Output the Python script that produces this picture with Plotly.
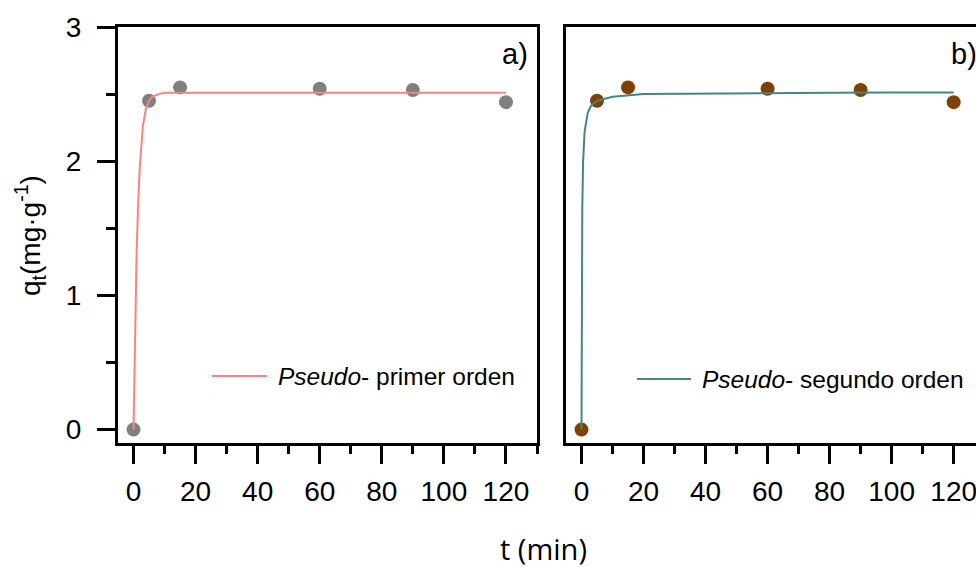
import plotly.graph_objects as go

# Measured adsorption capacity over time
t_exp = [0, 5, 15, 60, 90, 120]
q_exp = [0.0, 2.45, 2.55, 2.54, 2.53, 2.44]

# Pseudo-first-order fitted curve (sampled)
t_pfo = [0, 0.5, 1, 1.5, 2, 3, 4, 5, 6, 8, 10, 15, 20, 40, 60, 80, 100, 120]
q_pfo = [0.0, 0.78, 1.32, 1.69, 1.95, 2.26, 2.39, 2.45, 2.48, 2.50, 2.51, 2.51,
         2.51, 2.51, 2.51, 2.51, 2.51, 2.51]

# Pseudo-second-order fitted curve (sampled)
t_pso = [0, 0.1, 0.25, 0.5, 1, 2, 3, 5, 10, 20, 40, 60, 80, 100, 120]
q_pso = [0.0, 1.08, 1.64, 1.99, 2.22, 2.36, 2.41, 2.45, 2.48, 2.50, 2.505,
         2.51, 2.51, 2.512, 2.512]

x_ticks = [0, 20, 40, 60, 80, 100, 120]
y_ticks = [0, 1, 2, 3]

pfo_label = "<i>Pseudo</i>- primer orden"
pso_label = "<i>Pseudo</i>- segundo orden"

W, H = 976, 567
FONT = "Liberation Sans, Arial, sans-serif"
PFO_COLOR = "#ff8080"
PSO_COLOR = "#468484"

fig = go.Figure()

fig.add_trace(go.Scatter(x=t_exp, y=q_exp, mode="markers",
                         marker=dict(size=14, color="#808080"),
                         xaxis="x", yaxis="y", showlegend=False))
fig.add_trace(go.Scatter(x=t_pfo, y=q_pfo, mode="lines",
                         line=dict(color=PFO_COLOR, width=2), name=pfo_label,
                         xaxis="x", yaxis="y", showlegend=False))

fig.add_trace(go.Scatter(x=t_exp, y=q_exp, mode="markers",
                         marker=dict(size=14, color="#804000"),
                         xaxis="x2", yaxis="y2", showlegend=False))
fig.add_trace(go.Scatter(x=t_pso, y=q_pso, mode="lines",
                         line=dict(color=PSO_COLOR, width=2), name=pso_label,
                         xaxis="x2", yaxis="y2", showlegend=False))

y_dom = [(H - 443) / H, (H - 27) / H]

xcommon = dict(
    range=[-5, 130], tickvals=x_ticks, ticks="outside", ticklen=18, tickwidth=3,
    tickcolor="black", showline=True, linewidth=3, linecolor="black",
    mirror=True, showgrid=False, zeroline=False, automargin=False,
    tickfont=dict(family=FONT, size=28, color="black"),
    ticklabelstandoff=3, ticklabeloverflow="allow",
    minor=dict(ticks="outside", ticklen=8, tickwidth=3, tickcolor="black",
               dtick=10, tick0=0, showgrid=False),
)


def px_x(v):
    return v / W


def px_y(v):
    return 1 - v / H


# Per-panel key: short line sample followed by its label
legend_shapes = []
legend_notes = []
for x0, x1, y, color, label in [
    (212, 267, 376, PFO_COLOR, pfo_label),
    (637, 691, 379, PSO_COLOR, pso_label),
]:
    legend_shapes.append(dict(type="line", xref="paper", yref="paper",
                              x0=px_x(x0), x1=px_x(x1), y0=px_y(y), y1=px_y(y),
                              line=dict(color=color, width=2)))
    legend_notes.append(dict(text=label, x=px_x(x1 + 9), y=px_y(y),
                             xref="paper", yref="paper", xanchor="left",
                             yanchor="middle", showarrow=False,
                             font=dict(family=FONT, size=24.5, color="black")))

fig.update_layout(
    width=W, height=H,
    margin=dict(l=0, r=0, t=0, b=0),
    paper_bgcolor="white", plot_bgcolor="white",
    showlegend=False,
    xaxis=dict(xcommon, domain=[118 / W, 537 / W], anchor="y"),
    xaxis2=dict(xcommon, domain=[566 / W, 1.0], anchor="y2",
                range=[-5, 127.2]),
    yaxis=dict(
        domain=y_dom, range=[-0.1, 3], tickvals=y_ticks, ticks="outside",
        ticklen=18, tickwidth=3, tickcolor="black", showline=True,
        linewidth=3, linecolor="black", mirror=True, showgrid=False,
        zeroline=False, automargin=False, anchor="x",
        tickfont=dict(family=FONT, size=28, color="black"),
        ticklabelstandoff=10,
        minor=dict(ticks="outside", ticklen=9, tickwidth=3, tickcolor="black",
                   dtick=0.5, tick0=0, showgrid=False),
    ),
    yaxis2=dict(
        domain=y_dom, range=[-0.1, 3], showticklabels=False, ticks="",
        showline=True, linewidth=3, linecolor="black", mirror=False,
        showgrid=False, zeroline=False, automargin=False, anchor="x2",
    ),
    shapes=legend_shapes,
    annotations=legend_notes + [
        dict(text="a)", x=px_x(530), y=px_y(54), xref="paper", yref="paper",
             xanchor="right", yanchor="middle", showarrow=False,
             font=dict(family=FONT, size=29, color="black")),
        dict(text="b)", x=px_x(949), y=px_y(54), xref="paper", yref="paper",
             xanchor="left", yanchor="middle", showarrow=False,
             font=dict(family=FONT, size=29, color="black")),
        dict(text="q<sub>t</sub>(mg·g<sup>-1</sup>)", x=px_x(30),
             y=px_y(236), xref="paper", yref="paper", xanchor="center",
             yanchor="middle", textangle=-90, showarrow=False,
             font=dict(family=FONT, size=28, color="black")),
        dict(text="t (min)", x=px_x(543), y=px_y(548), xref="paper",
             yref="paper", xanchor="center", yanchor="middle", showarrow=False,
             font=dict(family="Open Sans, sans-serif", size=29, color="black")),
    ],
)

fig.write_html("out.html")
